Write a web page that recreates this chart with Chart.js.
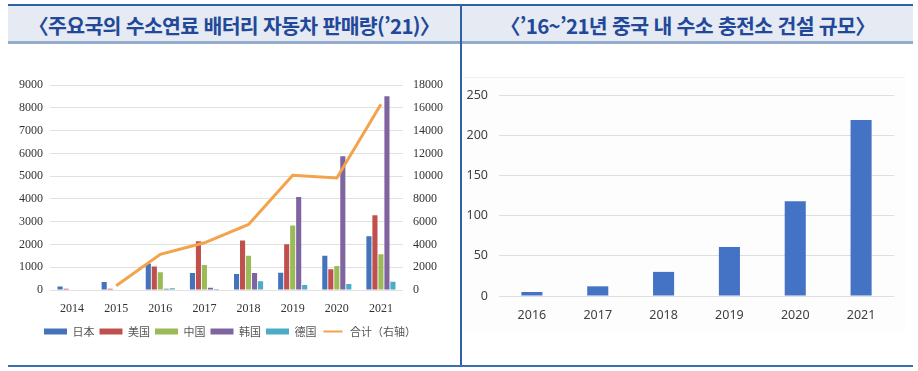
<!DOCTYPE html>
<html lang="ko">
<head>
<meta charset="utf-8">
<script src="https://cdn.jsdelivr.net/npm/chart.js@4"></script>
<style>
  html, body { margin: 0; padding: 0; background: #fff; }
  body { width: 918px; height: 371px; position: relative; overflow: hidden; }
  .topline { position: absolute; left: 8px; top: 4px; width: 905px; height: 2px; background: #2f61a6; }
  .head { position: absolute; left: 8px; top: 6px; width: 905px; height: 35px; background: #e5eaf3; }
  .headline { position: absolute; left: 8px; top: 41px; width: 905px; height: 3px; background: #93abcd; }
  .divider { position: absolute; left: 460px; top: 6px; width: 2px; height: 360px; background: #2f61a6; }
  .bottomline { position: absolute; left: 8px; top: 365px; width: 905px; height: 2px; background: #3a6fb0; }
  .title { position: absolute; top: 11px; height: 28px; line-height: 28px; text-align: center;
           font-family: "Noto Sans CJK KR", sans-serif; font-weight: bold; font-size: 20.5px;
           letter-spacing: -0.7px; color: #22489a; white-space: nowrap; }
  .frame { position: absolute; left: 463px; top: 77px; width: 442px; height: 253px; border-top: 1px solid #f0f0f0; background: #fdfdfd; }
  canvas { position: absolute; }
</style>
</head>
<body>
<div class="topline"></div>
<div class="head"></div>
<div class="headline"></div>
<div class="frame"></div>
<div class="divider"></div>
<div class="bottomline"></div>
<div class="title" style="left:8px;width:452px;">〈주요국의 수소연료 배터리 자동차 판매량(’21)〉</div>
<div class="title" style="left:462px;width:451px;">〈’16~’21년 중국 내 수소 충전소 건설 규모〉</div>

<div style="position:absolute;left:0;top:68px;width:460px;height:285px;"><canvas id="salesChart"></canvas></div>
<div style="position:absolute;left:462px;top:70px;width:450px;height:265px;"><canvas id="stationChart"></canvas></div>

<script>
// 왼쪽 차트: 국가별 판매량
const years = ['2014', '2015', '2016', '2017', '2018', '2019', '2020', '2021'];
const japan = [150, 350, 1170, 750, 705, 760, 1510, 2365];
const usa = [50, 50, 1030, 2145, 2175, 2010, 910, 3280];
const china = [0, 0, 780, 1100, 1510, 2835, 1060, 1570];
const korea = [0, 0, 60, 100, 750, 4085, 5880, 8510];
const germany = [0, 0, 80, 40, 380, 220, 265, 365];
const total = [null, 380, 3140, 4150, 5760, 10085, 9850, 16320]; // 합계 (오른쪽 축)

// 오른쪽 차트: 중국 충전소
const stationYears = ['2016', '2017', '2018', '2019', '2020', '2021'];
const stations = [5, 12, 30, 61, 118, 219];

const serif = "'Liberation Serif', 'DejaVu Serif', serif";
const plain = (v) => String(v); // 천 단위 쉼표 없이

function barSet(label, data, color) {
  return {
    type: 'bar', label: label, data: data, backgroundColor: color, borderWidth: 0,
    yAxisID: 'y', order: 1, categoryPercentage: 0.68, barPercentage: 0.85
  };
}

new Chart(document.getElementById('salesChart'), {
  data: {
    labels: years,
    datasets: [
      barSet('日本', japan, '#4573b9'),
      barSet('美国', usa, '#c0504d'),
      barSet('中国', china, '#9bbb59'),
      barSet('韩国', korea, '#7f64a2'),
      barSet('德国', germany, '#4bacc6'),
      {
        type: 'line', label: '合计（右轴）', data: total, yAxisID: 'y1', order: 0,
        borderColor: '#f4a24c', backgroundColor: '#f4a24c', borderWidth: 3,
        pointRadius: 0, tension: 0, spanGaps: false
      }
    ]
  },
  options: {
    responsive: true,
    maintainAspectRatio: false,
    animation: false,
    layout: { padding: { top: 10, right: 0, bottom: 6, left: 0 } },
    plugins: {
      tooltip: { enabled: false },
      legend: {
        position: 'bottom',
        labels: {
          boxWidth: 23, boxHeight: 6, padding: 5,
          color: '#555',
          font: { family: "'Noto Sans CJK SC', sans-serif", size: 11 },
          generateLabels: (chart) => {
            const items = Chart.defaults.plugins.legend.labels.generateLabels(chart);
            items.sort((a, b) => a.datasetIndex - b.datasetIndex);
            items.forEach((it) => {
              if (it.datasetIndex === 5) { // 선 범례는 얇게
                it.lineWidth = 4;
                it.strokeStyle = '#ffffff';
              } else {
                it.lineWidth = 0;
              }
            });
            return items;
          }
        }
      }
    },
    scales: {
      x: {
        grid: { display: false, drawTicks: false },
        border: { display: false },
        ticks: { color: '#333', padding: 12, font: { family: serif, size: 12 } },
        afterFit: (s) => { s.height = 31; }
      },
      y: {
        min: 0, max: 9000,
        ticks: { stepSize: 1000, color: '#333', padding: 7, callback: plain, font: { family: serif, size: 12 } },
        grid: { color: '#e1e1e1', drawTicks: false },
        border: { display: false },
        afterFit: (s) => { s.width = 50; }
      },
      y1: {
        position: 'right',
        min: 0, max: 18000,
        ticks: { stepSize: 2000, color: '#333', padding: 10, callback: plain, font: { family: serif, size: 12 } },
        grid: { drawOnChartArea: false, drawTicks: false },
        border: { display: false },
        afterFit: (s) => { s.width = 57; }
      }
    }
  }
});

new Chart(document.getElementById('stationChart'), {
  type: 'bar',
  data: {
    labels: stationYears,
    datasets: [{
      label: '충전소', data: stations, backgroundColor: '#4472c4',
      categoryPercentage: 1, barPercentage: 0.32
    }]
  },
  options: {
    responsive: true,
    maintainAspectRatio: false,
    animation: false,
    layout: { padding: { top: 25, right: 18, bottom: 0, left: 0 } },
    plugins: { legend: { display: false }, tooltip: { enabled: false } },
    scales: {
      x: {
        grid: { display: false, drawTicks: false },
        border: { display: false },
        ticks: { color: '#404040', padding: 12, font: { family: "'Noto Sans', sans-serif", size: 12.5 } }
      },
      y: {
        min: 0, max: 250,
        ticks: { stepSize: 50, color: '#404040', padding: 11, font: { family: "'Noto Sans', sans-serif", size: 12.5 } },
        grid: { color: '#dedede', drawTicks: false },
        border: { display: false },
        afterFit: (s) => { s.width = 37; }
      }
    }
  }
});
</script>
</body>
</html>
